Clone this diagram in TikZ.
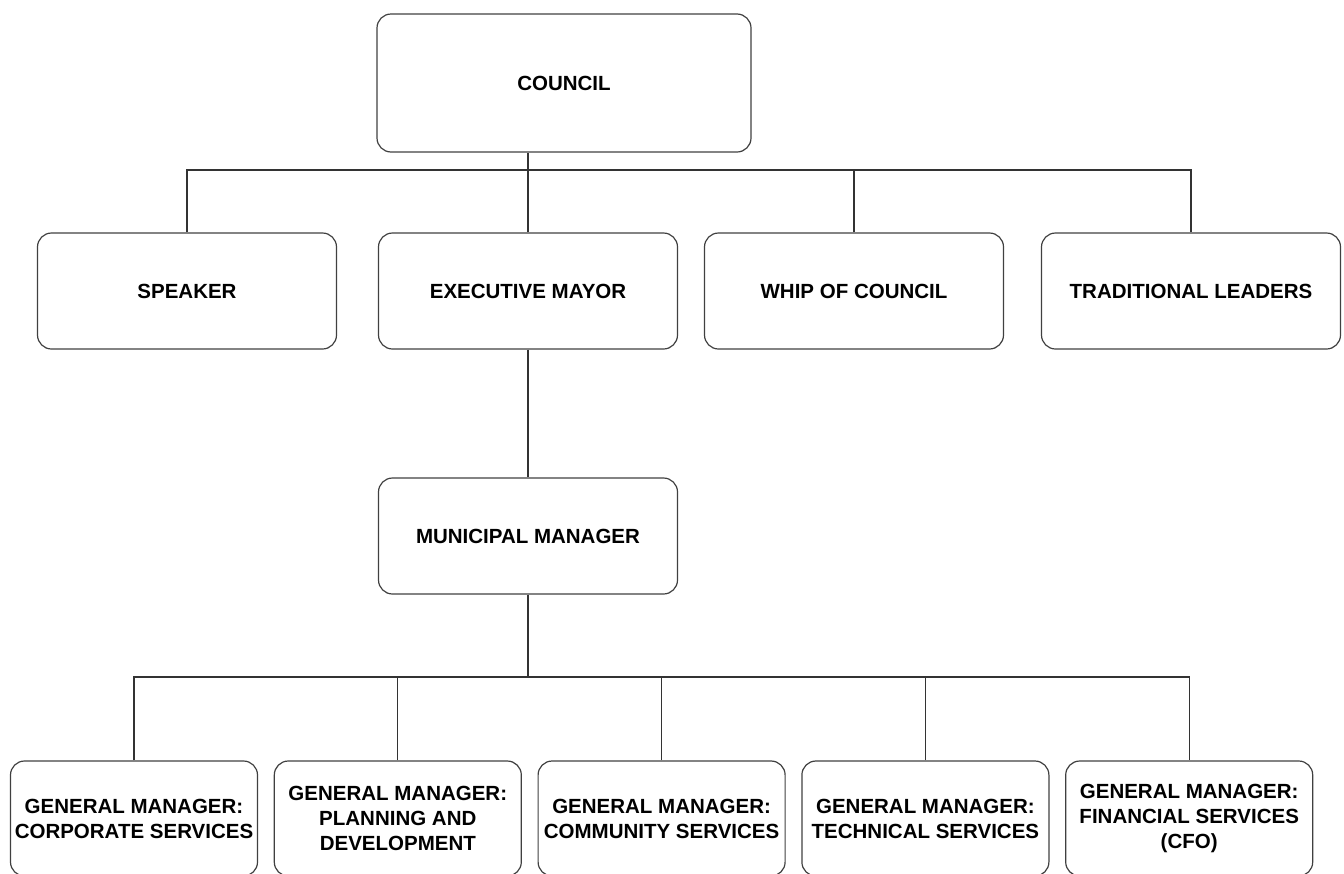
\documentclass[tikz,border=0pt]{standalone}
\usepackage{fontspec}
\setmainfont{Liberation Sans}
\usetikzlibrary{positioning}

\begin{document}
\begin{tikzpicture}[
  x=0.5pt, y=-0.5pt,
  node distance=7.8pt,
  box/.style={draw=black!75, line width=0.6pt, rounded corners=7pt, minimum width=149.5pt,
              minimum height=58pt, align=center, inner sep=1pt,
              font=\bfseries\fontsize{10.25}{12.5}\selectfont},
  topbox/.style={box, minimum width=187pt, minimum height=69pt},
  gmbox/.style={box, minimum width=123.5pt, minimum height=57.5pt},
  line/.style={draw=black!80, line width=0.6pt}
 ]
\useasboundingbox (0,0) rectangle (1344,873);
\node[topbox] (council) at (564,83) {COUNCIL};
\node[box] (speaker) at (187,291) {SPEAKER};
\node[box, right=20.4pt of speaker] (mayor) {EXECUTIVE MAYOR};
\node[box, right=12.9pt of mayor]   (whip)  {WHIP OF COUNCIL};
\node[box, right=18.4pt of whip]    (trad)  {TRADITIONAL LEADERS};
\node[box, below=63.9pt of mayor]   (mm)    {MUNICIPAL MANAGER};
\node[gmbox] (gmcorp) at (134,818.5) {GENERAL MANAGER:\\CORPORATE SERVICES};
\node[gmbox, right=of gmcorp] (gmplan) {GENERAL MANAGER:\\PLANNING AND\\DEVELOPMENT};
\node[gmbox, right=of gmplan] (gmcomm) {GENERAL MANAGER:\\COMMUNITY SERVICES};
\node[gmbox, right=of gmcomm] (gmtech) {GENERAL MANAGER:\\TECHNICAL SERVICES};
\node[gmbox, right=of gmtech] (gmfin)  {GENERAL MANAGER:\\FINANCIAL SERVICES\\(CFO)};
\coordinate (upbar)  at (0,170);
\coordinate (lowbar) at (0,677);
% council level
\draw[line] (mayor.north) -- (mayor.north |- council.south);
\draw[line] (speaker.north) |- (upbar -| trad.north) -- (trad.north);
\draw[line] (whip.north) -- (whip.north |- upbar);
% management level
\draw[line] (mayor.south) -- (mm.north);
\draw[line] (mm.south) -- (mm.south |- lowbar);
\draw[line] (gmcorp.north) |- (lowbar -| gmfin.north) -- (gmfin.north);
\draw[line] (gmplan.north) -- (gmplan.north |- lowbar);
\draw[line] (gmcomm.north) -- (gmcomm.north |- lowbar);
\draw[line] (gmtech.north) -- (gmtech.north |- lowbar);
\end{tikzpicture}
\end{document}
